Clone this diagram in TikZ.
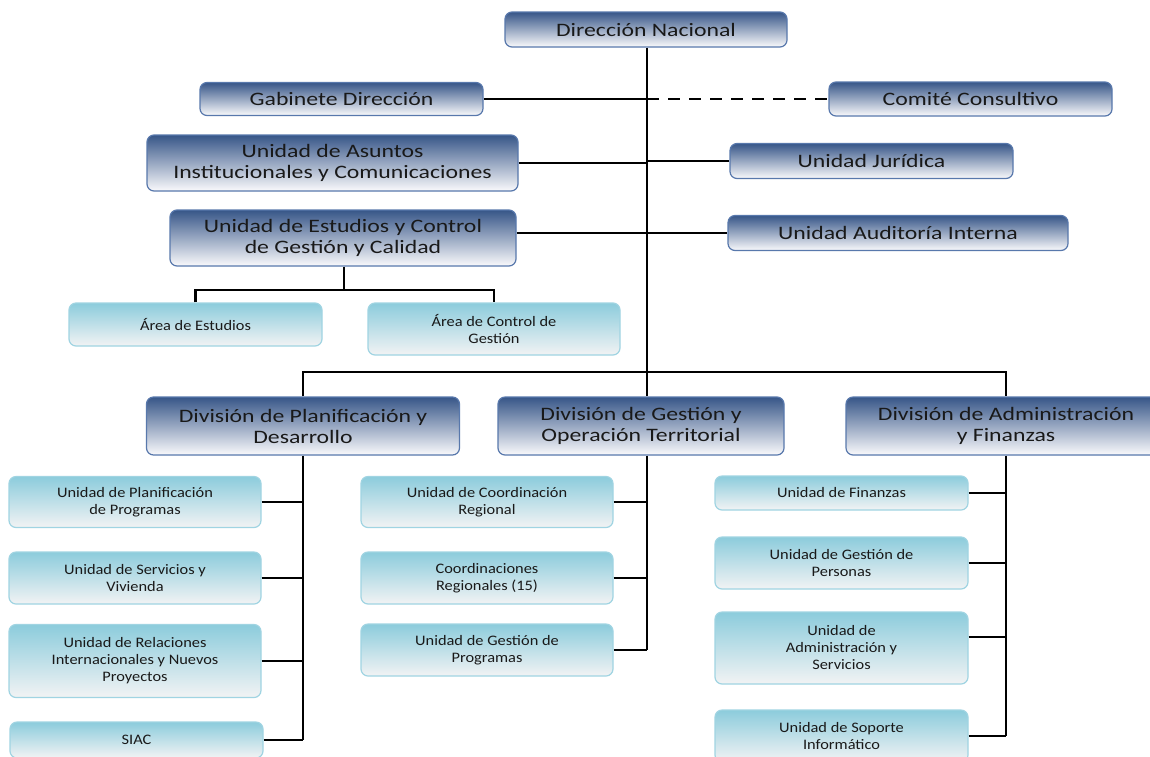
\documentclass[tikz,border=0pt]{standalone}
\usepackage{fontspec}
\setmainfont{Carlito}
\newfontfamily\darkfont[FakeStretch=1.25]{Carlito}
\newfontfamily\lightfont[FakeStretch=1.13]{Carlito}
\definecolor{dkTop}{RGB}{55,86,136}
\definecolor{dkMid}{RGB}{182,192,212}
\definecolor{dkBot}{RGB}{250,250,252}
\definecolor{dkLine}{RGB}{88,120,172}
\definecolor{ltTop}{RGB}{140,204,220}
\definecolor{ltMid}{RGB}{198,227,234}
\definecolor{ltBot}{RGB}{242,243,244}
\definecolor{ltLine}{RGB}{160,212,226}
\definecolor{txt}{RGB}{25,25,25}
\begin{document}
\begin{tikzpicture}[x=1pt,y=-1pt,
  dark/.style={draw=dkLine, line width=1.2pt, rounded corners=7pt, top color=dkTop, middle color=dkMid, bottom color=dkBot, inner sep=0pt, align=center, text=txt, font=\darkfont\fontsize{19}{21}\selectfont},
  light/.style={draw=ltLine, line width=1.2pt, rounded corners=7pt, top color=ltTop, middle color=ltMid, bottom color=ltBot, inner sep=0pt, align=center, text=txt, font=\lightfont\fontsize{14.5}{17}\selectfont},
  conn/.style={line width=2.9pt, black},
  dsh/.style={conn, dash pattern=on 12pt off 9pt}]
\useasboundingbox (0,0) rectangle (1150,756);
\fill[white] (0,0) rectangle (1150,756);

% dark boxes
\node[dark, minimum width=282pt, minimum height=35pt] (dn) at (646,29.5) {Dirección Nacional};
\node[dark, minimum width=283pt, minimum height=33pt] (gab) at (341.5,99) {Gabinete Dirección};
\node[dark, minimum width=283pt, minimum height=34pt] (com) at (970.5,99) {Comité Consultivo};
\node[dark, minimum width=371pt, minimum height=56pt] (asu) at (332.5,163) {Unidad de Asuntos\\Institucionales y Comunicaciones};
\node[dark, minimum width=283pt, minimum height=35pt] (jur) at (871.5,161) {Unidad Jurídica};
\node[dark, minimum width=346pt, minimum height=56pt] (est) at (343,238) {Unidad de Estudios y Control\\de Gestión y Calidad};
\node[dark, minimum width=340pt, minimum height=35pt] (aud) at (898,233) {Unidad Auditoría Interna};
\node[dark, minimum width=313pt, minimum height=58pt] (divP) at (303,426) {División de Planificación y\\Desarrollo};
\node[dark, minimum width=286pt, minimum height=58pt] (divG) at (641,426) {División de Gestión y\\Operación Territorial};
\node[dark, minimum width=320pt, minimum height=58pt] (divA) at (1006,426) {División de Administración\\y Finanzas};

% light boxes
\node[light, minimum width=253pt, minimum height=43pt] (ae) at (195.5,324.5) {Área de Estudios};
\node[light, minimum width=252pt, minimum height=52pt] (ac) at (494,329) {Área de Control de\\Gestión};
\node[light, minimum width=252pt, minimum height=51pt] (p1) at (135,502) {Unidad de Planificación\\de Programas};
\node[light, minimum width=252pt, minimum height=52pt] (p2) at (135,578) {Unidad de Servicios y\\Vivienda};
\node[light, minimum width=252pt, minimum height=73pt] (p3) at (135,661) {Unidad de Relaciones\\Internacionales y Nuevos\\Proyectos};
\node[light, minimum width=253pt, minimum height=36pt] (p4) at (136.5,740) {SIAC};
\node[light, minimum width=252pt, minimum height=51pt] (g1) at (487,502) {Unidad de Coordinación\\Regional};
\node[light, minimum width=252pt, minimum height=52pt] (g2) at (487,578) {Coordinaciones\\Regionales (15)};
\node[light, minimum width=252pt, minimum height=52pt] (g3) at (487,650) {Unidad de Gestión de\\Programas};
\node[light, minimum width=253pt, minimum height=34pt] (a1) at (841.5,493) {Unidad de Finanzas};
\node[light, minimum width=253pt, minimum height=52pt] (a2) at (841.5,563) {Unidad de Gestión de\\Personas};
\node[light, minimum width=253pt, minimum height=72pt] (a3) at (841.5,648) {Unidad de\\Administración y\\Servicios};
\node[light, minimum width=253pt, minimum height=52pt] (a4) at (841.5,736) {Unidad de Soporte\\Informático};

% coordinates
\coordinate (spine) at (647,0);
\coordinate (bar) at (647,372);
\coordinate (ea) at (344,290);

% connectors top
\draw[conn] (dn.south -| spine) -- (divG.north -| spine);
\draw[conn] (gab.east) -- (gab.east -| spine);
\draw[dsh] (gab.east -| spine) -- (com.west);
\draw[conn] (asu.east) -- (asu.east -| spine);
\draw[conn] (jur.west) -- (jur.west -| spine);
\draw[conn] (est.east |- aud.west) -- (aud.west);
\draw[conn] (est.south -| ea) -- (ea);
\draw[conn] (ae.north) |- (ea) -| (ac.north);
\draw[conn] (divP.north) |- (bar) -| (divA.north);

% Planificación column
\draw[conn] (divP.south) -- (divP.south |- p4.east);
\draw[conn] (p1.east) -- (p1.east -| divP.south);
\draw[conn] (p2.east) -- (p2.east -| divP.south);
\draw[conn] (p3.east) -- (p3.east -| divP.south);
\draw[conn] (p4.east) -- (p4.east -| divP.south);

% Gestión column
\draw[conn] (divG.south -| spine) -- (g3.east -| spine);
\draw[conn] (g1.east) -- (g1.east -| spine);
\draw[conn] (g2.east) -- (g2.east -| spine);
\draw[conn] (g3.east) -- (g3.east -| spine);

% Administración column
\draw[conn] (divA.south) -- (divA.south |- a4.east);
\draw[conn] (a1.east) -- (a1.east -| divA.south);
\draw[conn] (a2.east) -- (a2.east -| divA.south);
\draw[conn] ([yshift=11pt]a3.east) -- ([yshift=11pt]a3.east -| divA.south);
\draw[conn] (a4.east) -- (a4.east -| divA.south);
\end{tikzpicture}
\end{document}
